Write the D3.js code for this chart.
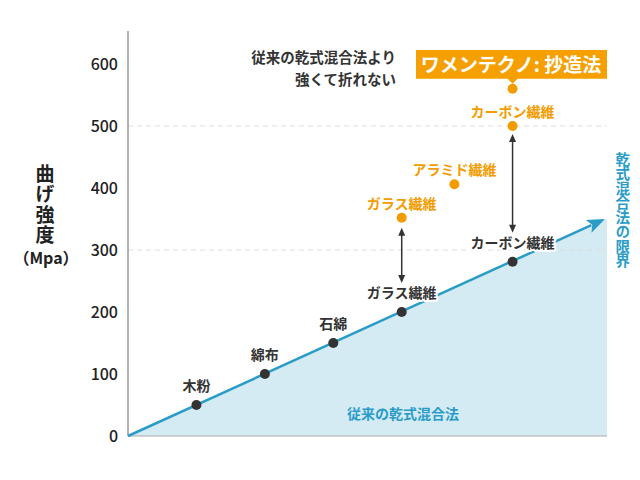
<!DOCTYPE html>
<html><head><meta charset="utf-8">
<script src="https://cdn.jsdelivr.net/npm/d3@7"></script>
<style>
body{margin:0;background:#fff;}
#wrap{position:relative;width:640px;height:480px;}
text,.vl{font-family:"Noto Sans CJK JP","Noto Sans",sans-serif;}
.vl{position:absolute;writing-mode:vertical-rl;text-orientation:upright;line-height:1;font-weight:700;white-space:nowrap;}
</style></head>
<body><div id="wrap"><svg id="c" width="640" height="480"></svg></div>
<script>
const yTicks = [0,100,200,300,400,500,600];
const gridValues = [300,500];
const convNames = ["木粉","綿布","石綿","ガラス繊維","カーボン繊維"];
const convPos = [1,2,3,4,5.62];
const convValues = [50,100,150,200,281];
const wetNames = ["ガラス繊維","アラミド繊維","カーボン繊維"];
const wetPos = [4,4.77,5.62];
const wetValues = [352,406,500];
const wamenName = "ワメンテクノ: 抄造法";
const wamenPos = 5.62;
const wamenValue = 560;
const limitPos = [0,7];
const limitValues = [0,350];
const limitLabel = "乾式混合法の限界";
const areaLabel = "従来の乾式混合法";
const noteLines = ["従来の乾式混合法より","強くて折れない"];
const yTitle = "曲げ強度";
const yUnit = "（Mpa）";

const svg = d3.select("#c");
const wrap = d3.select("#wrap");
const x = d3.scaleLinear().domain([0,7]).range([128,607]);
const y = d3.scaleLinear().domain([0,600]).range([436,64]);
const blue = "#2a9cc8", orange = "#f39c00", dark = "#333";

// area
const limit = limitPos.map((p,i)=>[p,limitValues[i]]);
svg.append("path")
  .attr("d", d3.area().x(d=>x(d[0])).y0(y(0)).y1(d=>y(d[1]))(limit))
  .attr("fill","#d4ebf4");

// grid
svg.selectAll(".g").data(gridValues).join("line")
  .attr("x1",x(0)).attr("x2",x(7)).attr("y1",d=>y(d)).attr("y2",d=>y(d))
  .attr("stroke","#ddd").attr("stroke-dasharray","5,4").attr("stroke-width",1);

// axes
svg.append("line").attr("x1",x(0)).attr("x2",x(0)).attr("y1",31).attr("y2",y(0))
  .attr("stroke","#999").attr("stroke-width",1.5);
svg.append("line").attr("x1",x(0)).attr("x2",x(7)).attr("y1",y(0)).attr("y2",y(0))
  .attr("stroke","#aaa").attr("stroke-width",1);

const yAxis = d3.axisLeft(y).tickValues(yTicks).tickSize(0).tickPadding(0);
const ga = svg.append("g").attr("transform","translate(118,0)").call(yAxis);
ga.select(".domain").remove();
ga.selectAll("text").attr("font-size",16).attr("fill","#222").attr("font-weight",500)
  .attr("font-family","'Noto Sans',sans-serif");

// vertical text (HTML vertical writing)
function vtext(str, cx, top, size, spacing, color){
  wrap.append("div").attr("class","vl")
    .style("left",(cx - size/2)+"px").style("top",top+"px")
    .style("font-size",size+"px").style("letter-spacing",spacing+"px")
    .style("color",color).text(str);
}
vtext(yTitle, 45, 164, 19, 1.5, "#222");
svg.append("text").attr("x",46).attr("y",264).attr("text-anchor","middle")
  .attr("font-size",16).attr("font-weight",700).attr("fill","#222").text(yUnit);

// limit line + arrow
const ex = x(limit[1][0]) - 2, ey = y(limit[1][1]);
const sx = x(limit[0][0]), sy = y(limit[0][1]);
const ang = Math.atan2(ey-sy, ex-sx);
const L = 18, W = 7;
const bx = ex - L*Math.cos(ang), by = ey - L*Math.sin(ang);
svg.append("line").attr("x1",sx).attr("y1",sy).attr("x2",bx+3*Math.cos(ang)).attr("y2",by+3*Math.sin(ang))
  .attr("stroke",blue).attr("stroke-width",2.5);
svg.append("path").attr("d",`M${ex},${ey}L${bx - W*Math.sin(ang)},${by + W*Math.cos(ang)}L${bx+4*Math.cos(ang)},${by+4*Math.sin(ang)}L${bx + W*Math.sin(ang)},${by - W*Math.cos(ang)}Z`)
  .attr("fill",blue);

// vertical limit label
vtext(limitLabel, 622, 152, 14.5, 0, blue);

svg.append("text").attr("x",403).attr("y",419).attr("text-anchor","middle")
  .attr("font-size",14).attr("font-weight",700).attr("fill",blue).text(areaLabel);

// double arrows
function dbl(px, y1, y2){
  const g = svg.append("g");
  g.append("line").attr("x1",px).attr("x2",px).attr("y1",y1+5).attr("y2",y2-5)
    .attr("stroke",dark).attr("stroke-width",1.5);
  g.append("path").attr("d",`M${px},${y1}L${px-3.5},${y1+8}L${px+3.5},${y1+8}Z`).attr("fill",dark);
  g.append("path").attr("d",`M${px},${y2}L${px-3.5},${y2-8}L${px+3.5},${y2-8}Z`).attr("fill",dark);
}
dbl(x(wetPos[0]), y(wetValues[0])+10, y(convValues[3])-29);
dbl(x(wetPos[2]), y(wetValues[2])+8, y(convValues[4])-29);

// conventional points
const conv = convNames.map((n,i)=>({n,p:convPos[i],v:convValues[i]}));
svg.selectAll(".cl").data(conv).join("text")
  .attr("x",d=>x(d.p)).attr("y",d=>y(d.v)-14).attr("text-anchor","middle")
  .attr("font-size",14).attr("font-weight",700).attr("fill",dark)
  .attr("stroke","#fff").attr("stroke-width",4).attr("paint-order","stroke").attr("stroke-linejoin","round")
  .text(d=>d.n);
svg.selectAll(".cp").data(conv).join("circle")
  .attr("cx",d=>x(d.p)).attr("cy",d=>y(d.v)).attr("r",5).attr("fill",dark);

// wet points
const wet = wetNames.map((n,i)=>({n,p:wetPos[i],v:wetValues[i]}));
svg.selectAll(".wl").data(wet).join("text")
  .attr("x",d=>x(d.p)).attr("y",d=>y(d.v)-9).attr("text-anchor","middle")
  .attr("font-size",14).attr("font-weight",700).attr("fill",orange).text(d=>d.n);
svg.selectAll(".wp").data(wet).join("circle")
  .attr("cx",d=>x(d.p)).attr("cy",d=>y(d.v)).attr("r",5).attr("fill",orange);
svg.append("circle").attr("cx",x(wamenPos)).attr("cy",y(wamenValue)).attr("r",5).attr("fill",orange);

// callout box
const cx = x(wamenPos), cyB = y(wamenValue)-10;
svg.append("path")
  .attr("d",`M416,50H607V${cyB}H${cx+5}L${cx},${cyB+5}L${cx-5},${cyB}H416Z`)
  .attr("fill","#f5a000");
svg.append("text").attr("x",511).attr("y",72).attr("text-anchor","middle")
  .attr("font-size",19).attr("font-weight",700).attr("fill","#fff").text(wamenName);

svg.selectAll(".nt").data(noteLines).join("text")
  .attr("x",396).attr("y",(d,i)=>63+i*22).attr("text-anchor","end")
  .attr("font-size",14.5).attr("font-weight",700).attr("fill",dark).text(d=>d);
</script></body></html>
